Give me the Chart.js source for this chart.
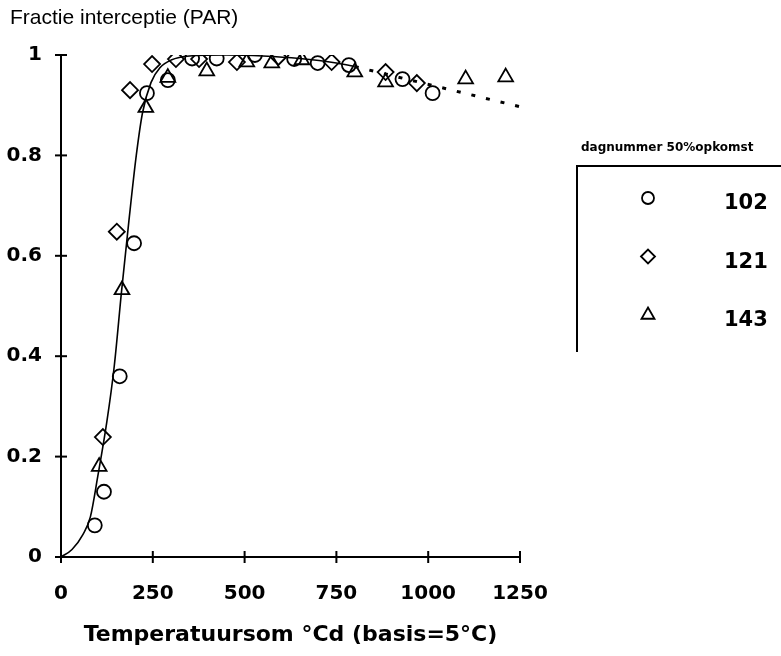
<!DOCTYPE html>
<html>
<head>
<meta charset="utf-8">
<script src="https://cdn.jsdelivr.net/npm/chart.js@4.4.1/dist/chart.umd.min.js"></script>
<style>
  body { margin: 0; background: #fff; }
  canvas { display: block; }
</style>
</head>
<body>
<canvas id="chart" width="781" height="656"></canvas>
<script>
// tick values
const xTicks = [0, 250, 500, 750, 1000, 1250];
const yTicks = [0, 0.2, 0.4, 0.6, 0.8, 1];

const yTitle = 'Fractie interceptie (PAR)';
const xTitle = 'Temperatuursom °Cd (basis=5°C)';
const legendTitle = 'dagnummer 50%opkomst';

// measured points, per day number of 50% emergence
const d102x = [92, 117, 160, 199, 234, 291, 357, 424, 528, 635, 699, 784, 930, 1012];
const d102y = [0.063, 0.13, 0.36, 0.625, 0.924, 0.95, 0.993, 0.993, 1.0, 0.992, 0.984, 0.98, 0.952, 0.924];

const d121x = [114, 152, 188, 248, 313, 376, 479, 592, 737, 884, 969];
const d121y = [0.239, 0.648, 0.93, 0.982, 0.992, 0.992, 0.986, 0.996, 0.986, 0.966, 0.944];

const d143x = [104, 166, 231, 291, 397, 506, 574, 656, 800, 884, 1102, 1211];
const d143y = [0.18, 0.532, 0.895, 0.955, 0.968, 0.986, 0.984, 0.99, 0.966, 0.946, 0.952, 0.956];

// fitted curve (solid) and extrapolation (dotted)
const fitX = [0, 30, 60, 80, 100, 125, 145, 165, 185, 205, 222, 245, 270, 300, 350, 450, 550, 650, 750, 800];
const fitY = [0, 0.015, 0.045, 0.08, 0.16, 0.27, 0.38, 0.53, 0.67, 0.8, 0.885, 0.945, 0.975, 0.99, 0.998, 1.0, 0.998, 0.993, 0.984, 0.977];
const trendX = [800, 1250];
const trendY = [0.977, 0.897];

function pts(xs, ys) {
  return xs.map((x, i) => ({ x: x, y: ys[i] }));
}

const FONT = '"DejaVu Sans", sans-serif';

const crossTicks = {
  id: 'crossTicks',
  afterDraw(chart) {
    const ctx = chart.ctx;
    const xs = chart.scales.x, ys = chart.scales.y;
    const a = chart.chartArea;
    ctx.save();
    ctx.strokeStyle = '#000';
    ctx.lineWidth = 2;
    xTicks.forEach(v => {
      const px = xs.getPixelForValue(v);
      ctx.beginPath();
      ctx.moveTo(px, a.bottom - 6);
      ctx.lineTo(px, a.bottom + 6);
      ctx.stroke();
    });
    yTicks.forEach(v => {
      const py = ys.getPixelForValue(v);
      ctx.beginPath();
      ctx.moveTo(a.left - 6, py);
      ctx.lineTo(a.left + 6, py);
      ctx.stroke();
    });
    // y axis title, horizontal at top left
    ctx.fillStyle = '#000';
    ctx.font = '21px "Liberation Sans", Arial, sans-serif';
    ctx.textAlign = 'left';
    ctx.textBaseline = 'middle';
    ctx.fillText(yTitle, 10, 18);
    ctx.restore();
  }
};

const boxLegend = {
  id: 'boxLegend',
  afterDraw(chart) {
    const ctx = chart.ctx;
    ctx.save();
    ctx.fillStyle = '#000';
    ctx.strokeStyle = '#000';
    ctx.font = 'bold 12px ' + FONT;
    ctx.textAlign = 'left';
    ctx.textBaseline = 'middle';
    ctx.fillText(legendTitle, 581, 148);

    ctx.lineWidth = 2;
    ctx.beginPath();
    ctx.moveTo(577, 352);
    ctx.lineTo(577, 166);
    ctx.lineTo(781, 166);
    ctx.stroke();

    const entries = chart.data.datasets.filter(ds => ds.legendRadius);
    entries.forEach((ds, i) => {
      const cy = 198 + i * 58.5;
      ctx.fillStyle = 'rgba(0,0,0,0)';
      ctx.lineWidth = 1.8;
      Chart.helpers.drawPoint(ctx, {
        pointStyle: ds.pointStyle,
        radius: ds.legendRadius,
        rotation: 0,
        borderWidth: 1.8
      }, 648, cy);
      ctx.fillStyle = '#000';
      ctx.font = 'bold 21px ' + FONT;
      ctx.fillText(ds.label, 724, cy + 6);
    });
    ctx.restore();
  }
};

function markerSet(label, xs, ys, style, r, lr) {
  return {
    label: label,
    data: pts(xs, ys),
    pointStyle: style,
    pointRadius: r,
    legendRadius: lr,
    pointBorderWidth: 1.8,
    pointBorderColor: '#000',
    pointBackgroundColor: 'rgba(0,0,0,0)',
    showLine: false
  };
}

new Chart(document.getElementById('chart').getContext('2d'), {
  type: 'scatter',
  data: {
    datasets: [
      {
        label: 'fit',
        data: pts(fitX, fitY),
        showLine: true,
        borderColor: '#000',
        borderWidth: 1.6,
        pointRadius: 0,
        cubicInterpolationMode: 'monotone'
      },
      {
        label: 'trend',
        data: pts(trendX, trendY),
        showLine: true,
        borderColor: '#000',
        borderWidth: 3,
        borderDash: [4, 11],
        pointRadius: 0
      },
      markerSet('102', d102x, d102y, 'circle', 7, 6),
      markerSet('121', d121x, d121y, 'rectRot', 8, 7),
      markerSet('143', d143x, d143y, 'triangle', 8.5, 7.5)
    ]
  },
  options: {
    responsive: false,
    animation: false,
    layout: { padding: { top: 55, right: 261, left: 0, bottom: 0 } },
    plugins: {
      legend: { display: false },
      tooltip: { enabled: false }
    },
    scales: {
      x: {
        type: 'linear',
        min: 0,
        max: 1250,
        afterBuildTicks: s => { s.ticks = xTicks.map(v => ({ value: v })); },
        afterFit: s => { s.height = 99; },
        grid: { display: false, drawTicks: false },
        border: { display: true, color: '#000', width: 2 },
        ticks: {
          color: '#000',
          padding: 25,
          maxRotation: 0,
          font: { family: FONT, size: 20, weight: 'bold' },
          callback: v => String(v)
        },
        title: {
          display: true,
          text: xTitle,
          color: '#000',
          padding: { top: 0, bottom: 8 },
          font: { family: FONT, size: 22, weight: 'bold' }
        }
      },
      y: {
        type: 'linear',
        min: 0,
        max: 1,
        afterBuildTicks: s => { s.ticks = yTicks.map(v => ({ value: v })); },
        afterFit: s => { s.width = 61; },
        grid: { display: false, drawTicks: false },
        border: { display: true, color: '#000', width: 2 },
        ticks: {
          color: '#000',
          padding: 19,
          font: { family: FONT, size: 20, weight: 'bold' },
          callback: v => String(v)
        }
      }
    }
  },
  plugins: [crossTicks, boxLegend]
});
</script>
</body>
</html>
